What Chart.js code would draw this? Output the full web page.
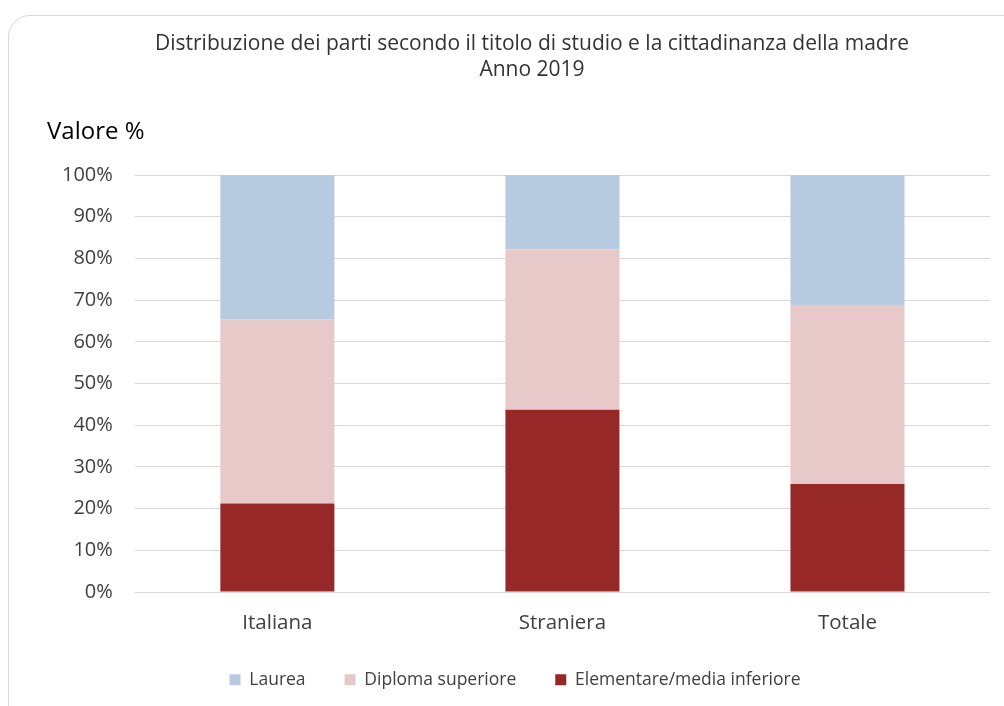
<!DOCTYPE html>
<html>
<head>
<meta charset="utf-8">
<script src="https://cdn.jsdelivr.net/npm/chart.js@4"></script>
<style>
  body { margin: 0; background: #fff; }
  #frame {
    position: absolute; left: 8px; top: 15px; width: 1020px; height: 720px;
    border: 1px solid #d9d9d9; border-radius: 22px; box-sizing: border-box;
  }
  #wrap { position: absolute; left: 0; top: 0; width: 1004px; height: 706px; }
</style>
</head>
<body>
<div id="frame"></div>
<div id="wrap"><canvas id="chart"></canvas></div>
<script>
const categories = ["Italiana", "Straniera", "Totale"];
const seriesNames = ["Elementare/media inferiore", "Diploma superiore", "Laurea"];
const elementare = [21.2, 43.7, 25.9];
const diploma = [44.2, 38.5, 42.9];
const laurea = [34.6, 17.8, 31.2];
const yTicks = [0, 10, 20, 30, 40, 50, 60, 70, 80, 90, 100];
const titleLines = ["Distribuzione dei parti secondo il titolo di studio e la cittadinanza della madre", "Anno 2019"];

const colors = ["#962828", "#e8c9ca", "#b7cbe0"];
const FONT = "'Open Sans', sans-serif";

// titolo centrato sul riquadro + "Valore %" sopra l'asse y
const headerText = {
  id: "headerText",
  afterDraw(chart) {
    const ctx = chart.ctx;
    ctx.save();
    ctx.textBaseline = "middle";
    ctx.font = "21px " + FONT;
    ctx.fillStyle = "#333333";
    ctx.textAlign = "center";
    ctx.fillText(titleLines[0], 532, 44);
    ctx.fillText(titleLines[1], 532, 70);
    ctx.font = "24px " + FONT;
    ctx.fillStyle = "#000";
    ctx.textAlign = "left";
    ctx.fillText("Valore %", 47, 132);
    ctx.restore();
  }
};

const ctx = document.getElementById("chart").getContext("2d");
new Chart(ctx, {
  type: "bar",
  data: {
    labels: categories,
    datasets: [elementare, diploma, laurea].map((vals, i) => ({
      label: seriesNames[i],
      data: vals,
      backgroundColor: colors[i],
      borderWidth: 0,
      categoryPercentage: 1,
      barPercentage: 0.4,
    })),
  },
  options: {
    responsive: true,
    maintainAspectRatio: false,
    animation: false,
    layout: { padding: { left: 40, right: 14, top: 175, bottom: 7.5 } },
    plugins: {
      title: { display: false },
      legend: {
        position: "bottom",
        reverse: true,
        labels: {
          boxWidth: 11,
          boxHeight: 11,
          padding: 39,
          color: "#404040",
          font: { family: FONT, size: 17.5 },
        },
      },
      tooltip: { enabled: false },
    },
    scales: {
      x: {
        stacked: true,
        grid: { display: false, drawTicks: false },
        border: { display: false },
        ticks: {
          color: "#404040",
          font: { family: FONT, size: 20.5, lineHeight: 1 },
          padding: 21,
        },
        afterFit: (axis) => { axis.height = 40; },
      },
      y: {
        stacked: true,
        min: 0,
        max: 100,
        afterBuildTicks: (axis) => { axis.ticks = yTicks.map((v) => ({ value: v })); },
        grid: { color: "#d9d9d9", lineWidth: 1, drawTicks: false },
        border: { display: false },
        ticks: {
          color: "#404040",
          font: { family: FONT, size: 20 },
          padding: 22,
          callback: (v) => v + "%",
        },
      },
    },
  },
  plugins: [headerText],
});
</script>
</body>
</html>
